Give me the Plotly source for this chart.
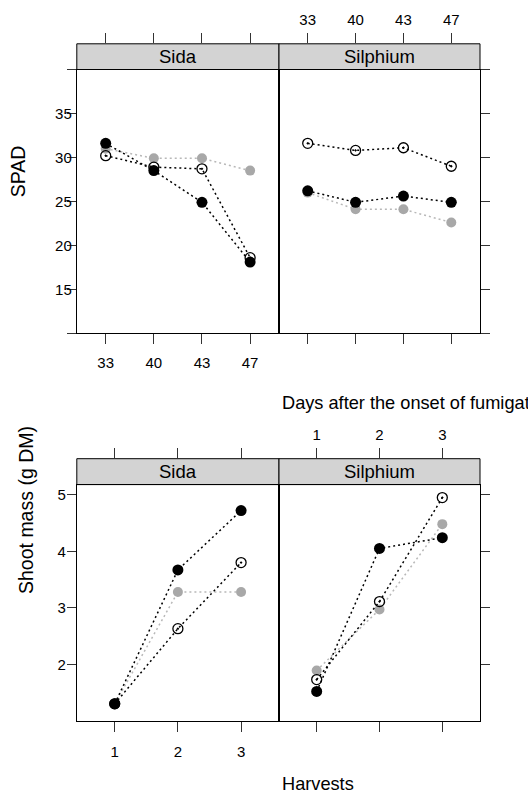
import plotly.graph_objects as go

W, H = 528, 795

# ---- data -------------------------------------------------------------
days = ["33", "40", "43", "47"]
harvests = ["1", "2", "3"]
species = ["Sida", "Silphium"]

# SPAD readings (one list per species and treatment group)
spad_sida_black = [31.6, 28.5, 24.9, 18.1]
spad_sida_open = [30.2, 28.9, 28.7, 18.6]
spad_sida_grey = [31.0, 29.9, 29.9, 28.5]
spad_silphium_black = [26.2, 24.9, 25.6, 24.9]
spad_silphium_open = [31.6, 30.8, 31.1, 29.0]
spad_silphium_grey = [26.0, 24.1, 24.1, 22.6]

# Shoot mass (g DM) per harvest
mass_sida_black = [1.30, 3.67, 4.72]
mass_sida_open = [1.30, 2.63, 3.80]
mass_sida_grey = [1.30, 3.28, 3.28]
mass_silphium_black = [1.52, 4.05, 4.24]
mass_silphium_open = [1.73, 3.11, 4.95]
mass_silphium_grey = [1.89, 2.97, 4.48]

spad_ticks = [10, 15, 20, 25, 30, 35, 40]
spad_ticktext = ["", "15", "20", "25", "30", "35", ""]
mass_ticks = [2, 3, 4, 5]

# ---- layout helpers (pixel -> paper) ----------------------------------
def px(x):
    return x / W


def py(y):
    return 1 - y / H


FONT = "Liberation Sans, Arial, sans-serif"
TICKC = "#333333"
GREY_M = "#a8a8a8"
GREY_L = "#b8b8b8"

x_left = [px(76.8), px(279.0)]
x_right = [px(279.0), px(480.0)]
top_dom = [py(333.3), py(69.5)]
bot_dom = [py(720.8), py(484.6)]
# strips as (top edge, bottom edge) in paper units
top_strip = (py(43.8), py(69.5))
bot_strip = (py(458.7), py(484.6))

fig = go.Figure()


def add_group(xs, ys, xa, ya, style):
    if style == "grey":
        line = dict(color=GREY_L, width=1.5, dash="2px,3px")
        marker = dict(symbol="circle", size=10, color=GREY_M, line=dict(width=0))
    elif style == "open":
        line = dict(color="black", width=1.5, dash="2px,3px")
        marker = dict(symbol="circle-open-dot", size=10, color="black",
                      line=dict(width=1.3, color="black"))
    else:
        line = dict(color="black", width=1.5, dash="2px,3px")
        marker = dict(symbol="circle", size=11, color="black", line=dict(width=0))
    fig.add_trace(go.Scatter(x=xs, y=ys, xaxis=xa, yaxis=ya, mode="lines+markers",
                             line=line, marker=marker, showlegend=False,
                             hoverinfo="x+y"))


# SPAD panels
add_group(days, spad_sida_grey, "x", "y", "grey")
add_group(days, spad_sida_open, "x", "y", "open")
add_group(days, spad_sida_black, "x", "y", "black")
add_group(days, spad_silphium_grey, "x2", "y2", "grey")
add_group(days, spad_silphium_open, "x2", "y2", "open")
add_group(days, spad_silphium_black, "x2", "y2", "black")

# Shoot mass panels
add_group(harvests, mass_sida_grey, "x3", "y3", "grey")
add_group(harvests, mass_sida_open, "x3", "y3", "open")
add_group(harvests, mass_sida_black, "x3", "y3", "black")
add_group(harvests, mass_silphium_grey, "x4", "y4", "grey")
add_group(harvests, mass_silphium_open, "x4", "y4", "open")
add_group(harvests, mass_silphium_black, "x4", "y4", "black")

# thin helper subplots sitting on top of each strip carry the top tick marks
for xa, ya, cats in [("x5", "y5", days), ("x6", "y6", days),
                     ("x7", "y7", harvests), ("x8", "y8", harvests)]:
    fig.add_trace(go.Scatter(x=cats, y=[None] * len(cats), xaxis=xa, yaxis=ya,
                             mode="markers", showlegend=False, hoverinfo="skip"))

tickfont = dict(family=FONT, size=15, color="black")


def xax(domain, anchor, cats, labels, standoff):
    return dict(domain=domain, anchor=anchor, type="category",
                categoryorder="array", categoryarray=cats,
                range=[-0.6, len(cats) - 0.4], ticks="outside", ticklen=10,
                tickwidth=1, tickcolor=TICKC, showline=True, linecolor="black",
                linewidth=1, mirror=True, showgrid=False, zeroline=False,
                showticklabels=labels, tickfont=tickfont, fixedrange=True,
                ticklabelstandoff=standoff)


def xtop(domain, anchor, cats, labels):
    return dict(domain=domain, anchor=anchor, side="top", type="category",
                categoryorder="array", categoryarray=cats,
                range=[-0.6, len(cats) - 0.4],
                ticks="outside", ticklen=10, tickwidth=1, tickcolor=TICKC,
                showline=False, showgrid=False, zeroline=False,
                showticklabels=labels, tickfont=tickfont, fixedrange=True,
                ticklabelstandoff=2)


def ydummy(top):
    return dict(domain=[top - 0.001, top], visible=False, fixedrange=True,
                range=[0, 1])


def yax(domain, anchor, rng, tv, tt, side, labels, standoff):
    d = dict(domain=domain, anchor=anchor, range=rng, tickmode="array",
             tickvals=tv, ticks="outside", ticklen=9, tickwidth=1,
             tickcolor=TICKC, showline=True, linecolor="black", linewidth=1,
             mirror=True, showgrid=False, zeroline=False, side=side,
             showticklabels=labels, tickfont=tickfont, fixedrange=True,
             ticklabelstandoff=standoff)
    if tt is not None:
        d["ticktext"] = tt
    return d


fig.update_layout(
    width=W, height=H, margin=dict(l=0, r=0, t=0, b=0),
    paper_bgcolor="white", plot_bgcolor="rgba(0,0,0,0)",
    font=dict(family=FONT, color="black"),
    xaxis=xax(x_left, "y", days, True, 6),
    xaxis2=xax(x_right, "y2", days, False, 0),
    xaxis3=xax(x_left, "y3", harvests, True, 7),
    xaxis4=xax(x_right, "y4", harvests, False, 0),
    xaxis5=xtop(x_left, "y5", days, False),
    xaxis6=xtop(x_right, "y6", days, True),
    xaxis7=xtop(x_left, "y7", harvests, False),
    xaxis8=xtop(x_right, "y8", harvests, True),
    yaxis=yax(top_dom, "x", [10, 40], spad_ticks, spad_ticktext, "left", True, -8),
    yaxis2=yax(top_dom, "x2", [10, 40], spad_ticks, None, "right", False, 0),
    yaxis3=yax(bot_dom, "x3", [1.0, 5.18], mass_ticks, None, "left", True, -2),
    yaxis4=yax(bot_dom, "x4", [1.0, 5.18], mass_ticks, None, "right", False, 0),
    yaxis5=ydummy(top_strip[0]),
    yaxis6=ydummy(top_strip[0]),
    yaxis7=ydummy(bot_strip[0]),
    yaxis8=ydummy(bot_strip[0]),
)

# strips with panel names
shapes = []
annotations = []
for (y_top, y_bot) in [top_strip, bot_strip]:
    for dom, name in [(x_left, species[0]), (x_right, species[1])]:
        shapes.append(dict(type="rect", xref="paper", yref="paper",
                           x0=dom[0], x1=dom[1], y0=y_bot, y1=y_top, layer="below",
                           fillcolor="#d3d3d3", line=dict(color="black", width=1)))
        annotations.append(dict(xref="paper", yref="paper",
                                x=(dom[0] + dom[1]) / 2, y=(y_top + y_bot) / 2,
                                text=name, showarrow=False,
                                font=dict(family=FONT, size=18.5, color="black"),
                                xanchor="center", yanchor="middle"))

# axis titles
annotations += [
    dict(xref="paper", yref="paper", x=px(17.5), y=py(171.7), text="SPAD",
         textangle=-90, showarrow=False, xanchor="center", yanchor="middle",
         font=dict(family=FONT, size=19.5, color="black")),
    dict(xref="paper", yref="paper", x=px(26), y=py(510), text="Shoot mass (g DM)",
         textangle=-90, showarrow=False, xanchor="center", yanchor="middle",
         font=dict(family=FONT, size=19.5, color="black")),
    dict(xref="paper", yref="paper", x=px(279.5), y=py(402.7),
         text="Days after the onset of fumigation", showarrow=False,
         xanchor="left", yanchor="middle",
         font=dict(family=FONT, size=18.2, color="black")),
    dict(xref="paper", yref="paper", x=px(279.5), y=py(784),
         text="Harvests", showarrow=False, xanchor="left", yanchor="middle",
         font=dict(family=FONT, size=18.2, color="black")),
]

fig.update_layout(shapes=shapes, annotations=annotations)

fig.write_html("out.html")
